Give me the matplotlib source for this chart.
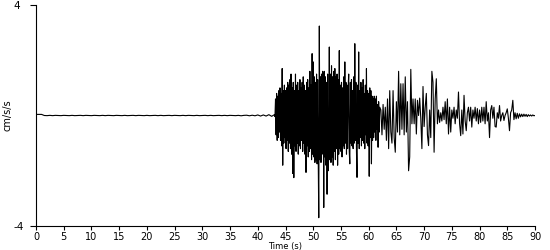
import numpy as np
from matplotlib import pyplot as plt

plt.rcParams['axes.unicode_minus'] = False

#   quiet part before the arrival, sampled every 0.5 s (0.0 .. 42.5)
quiet = [
    0.04, 0.04, 0.04, 0.0, -0.005, 0.005, -0.005, 0.005, 0.0, -0.005,
    0.005, 0.0, -0.005, 0.005, -0.005, 0.0, 0.005, -0.005, 0.005, 0.0,
    -0.005, 0.005, 0.0, -0.005, 0.005, -0.005, 0.005, 0.0, -0.005, 0.005,
    0.0, -0.005, 0.005, -0.005, 0.0, 0.005, -0.005, 0.005, 0.0, -0.005,
    0.005, -0.005, 0.0, 0.005, -0.005, 0.005, -0.005, 0.0, 0.005, -0.005,
    0.005, 0.0, -0.005, 0.005, -0.005, 0.005, 0.0, -0.005, 0.005, -0.005,
    0.0, 0.005, -0.005, 0.005, -0.005, 0.0, 0.005, -0.005, 0.005, -0.005,
    0.005, 0.0, -0.005, 0.005, -0.01, 0.005, 0.01, -0.01, 0.01, -0.01,
    0.02, -0.02, 0.02, -0.02, 0.03, -0.03,
]

#   strong shaking, sampled every 0.1 s (43.0 .. 62.0)
strong = [
    0.03, -0.04, 0.6, -0.7, 0.8, -0.9, 0.7, -0.8, 0.9, -0.6,
    1.0, -0.9, 0.8, -1.1, 1.7, -1.8, 0.9, -1.0, 1.1, -0.8,
    0.9, -1.2, 1.0, -0.9, 1.2, -1.3, 1.1, -1.0, 1.3, -1.2,
    1.5, -1.4, 1.0, -2.1, 1.2, -2.25, 0.9, -1.1, 1.5, -1.3,
    1.1, -1.0, 1.2, -1.4, 0.9, -1.1, 1.3, -1.2, 1.0, -0.9,
    1.2, -1.3, 1.4, -1.0, 1.1, -1.4, 0.9, -2.06, 1.2, -1.1,
    1.3, -1.5, 1.0, -1.3, 1.6, -1.2, 1.1, -1.6, 2.24, -1.4,
    1.94, -1.5, 1.4, -1.7, 1.2, -1.6, 1.5, -1.75, 1.3, -1.5,
    -3.7, 3.24, -1.6, 1.4, -1.7, 1.5, -1.4, 1.6, 1.2, -3.33,
    1.6, -1.5, 1.4, -1.8, 1.2, -2.85, 1.5, -2.0, -1.4, 2.48,
    -1.6, 1.5, -1.7, 1.8, -1.5, 1.4, -1.8, 1.6, -1.3, 1.7,
    -1.6, 1.4, -1.2, 1.5, -1.8, 1.3, -1.4, 2.35, -1.2, 1.1,
    -1.3, 1.2, -1.5, 1.0, -1.1, 1.4, -1.2, 1.94, -1.0, 1.2,
    -1.4, 1.1, -1.2, 1.0, 1.5, -1.3, -1.75, 1.2, -1.0, 1.3,
    -1.1, 0.9, -1.2, 1.4, -1.0, 2.6, -0.9, 1.2, -1.3, -2.24,
    1.1, -1.0, 2.3, -1.2, 0.9, -0.8, 1.2, -1.1, 1.0, -0.9,
    1.3, -1.0, 0.8, -1.2, 1.1, -0.7, 1.7, -1.0, 0.9, -1.1,
    0.8, -2.2, 1.0, -0.8, 0.9, -1.75, 0.7, -0.9, 0.6, -0.8,
    0.7, -0.6, 0.6, -0.9, 0.7, -0.5, 0.4, -1.15, 0.5, -0.6,
    0.3,
]

#   coda, sampled every 0.2 s (62.2 .. 90.0)
coda = [
    0.2, -0.7, 0.4, -0.5, 0.3,
    -0.9, 0.6, -1.2, 0.9, -0.6,
    -1.0, 0.9, -0.8, -1.33, 0.5,
    -0.6, 1.6, -0.7, 1.15, -0.5,
    1.15, -0.7, 1.4, -0.6, 0.5,
    -2.0, -1.5, 1.67, -0.3, 0.6,
    -0.3, 0.6, -0.67, 0.55, 0.0,
    0.63, -0.1, -1.2, 1.05, -0.4,
    0.3, 0.8, -0.7, -1.09, 0.2,
    -0.8, 1.6, 1.2, -1.33, 0.6,
    1.33, -0.3, 0.2, -0.25, 0.1,
    -0.2, 0.3, -0.15, 0.5, -0.3,
    0.6, -0.67, 0.3, -0.6, 0.2,
    -0.1, 0.3, -0.3, 0.2, -0.1,
    0.85, -0.3, -0.73, 0.2, -0.67,
    0.73, -0.2, -0.55, 0.1, 0.3,
    -0.2, 0.3, -0.42, 0.2, -0.1,
    0.3, -0.2, 0.25, -0.3, 0.2,
    -0.25, 0.3, -0.2, 0.3, -0.3,
    0.5, -0.2, 0.1, -0.8, 0.2,
    0.36, -0.1, 0.3, -0.4, -0.42,
    0.1, -0.1, 0.36, -0.2, 0.0,
    0.1, -0.18, 0.0, 0.1, 0.24,
    -0.1, -0.55, 0.1, 0.2, 0.55,
    -0.15, 0.1, -0.12, 0.08, -0.1,
    0.06, -0.05, 0.05, -0.04, 0.05,
    -0.03, 0.04, -0.04, 0.03, -0.02,
    0.02, -0.02, 0.02, -0.01, 0.0,
]

x_ticks = list(range(0, 91, 5))
y_ticks = [-4, 4]


def main():

    #   sample times for each part
    t_quiet = 0.0 + 0.5 * np.arange(len(quiet))
    t_strong = 43.0 + 0.1 * np.arange(len(strong))
    t_coda = 62.2 + 0.2 * np.arange(len(coda))

    t = np.concatenate([t_quiet, t_strong, t_coda])
    acc = np.concatenate([quiet, strong, coda])

    fig = plt.figure(figsize=(5.5, 2.5), dpi=100)
    ax = fig.add_axes([36/550, 24/250, 499/550, 221/250])

    ax.plot(t, acc, color='black', linewidth=0.8)

    ax.set_xlim(0, 90)
    ax.set_ylim(-4, 4)
    ax.set_xticks(x_ticks)
    ax.set_yticks(y_ticks)

    ax.spines['top'].set_visible(False)
    ax.spines['right'].set_visible(False)
    for s in ('left', 'bottom'):
        ax.spines[s].set_linewidth(0.8)

    ax.tick_params(axis='x', length=3, width=0.8, pad=1, labelsize=7)
    ax.tick_params(axis='y', length=4, width=0.8, pad=12, labelsize=7.5)
    for lab in ax.get_yticklabels():
        lab.set_horizontalalignment('left')

    ax.set_xlabel('Time (s)', fontsize=6)
    ax.xaxis.set_label_coords(0.5, -0.072)
    ax.set_ylabel('cm/s/s', fontsize=7)
    ax.yaxis.set_label_coords(-0.048, 0.5)

    fig.savefig('out.png', dpi=100)


if __name__ == '__main__':
    main()
